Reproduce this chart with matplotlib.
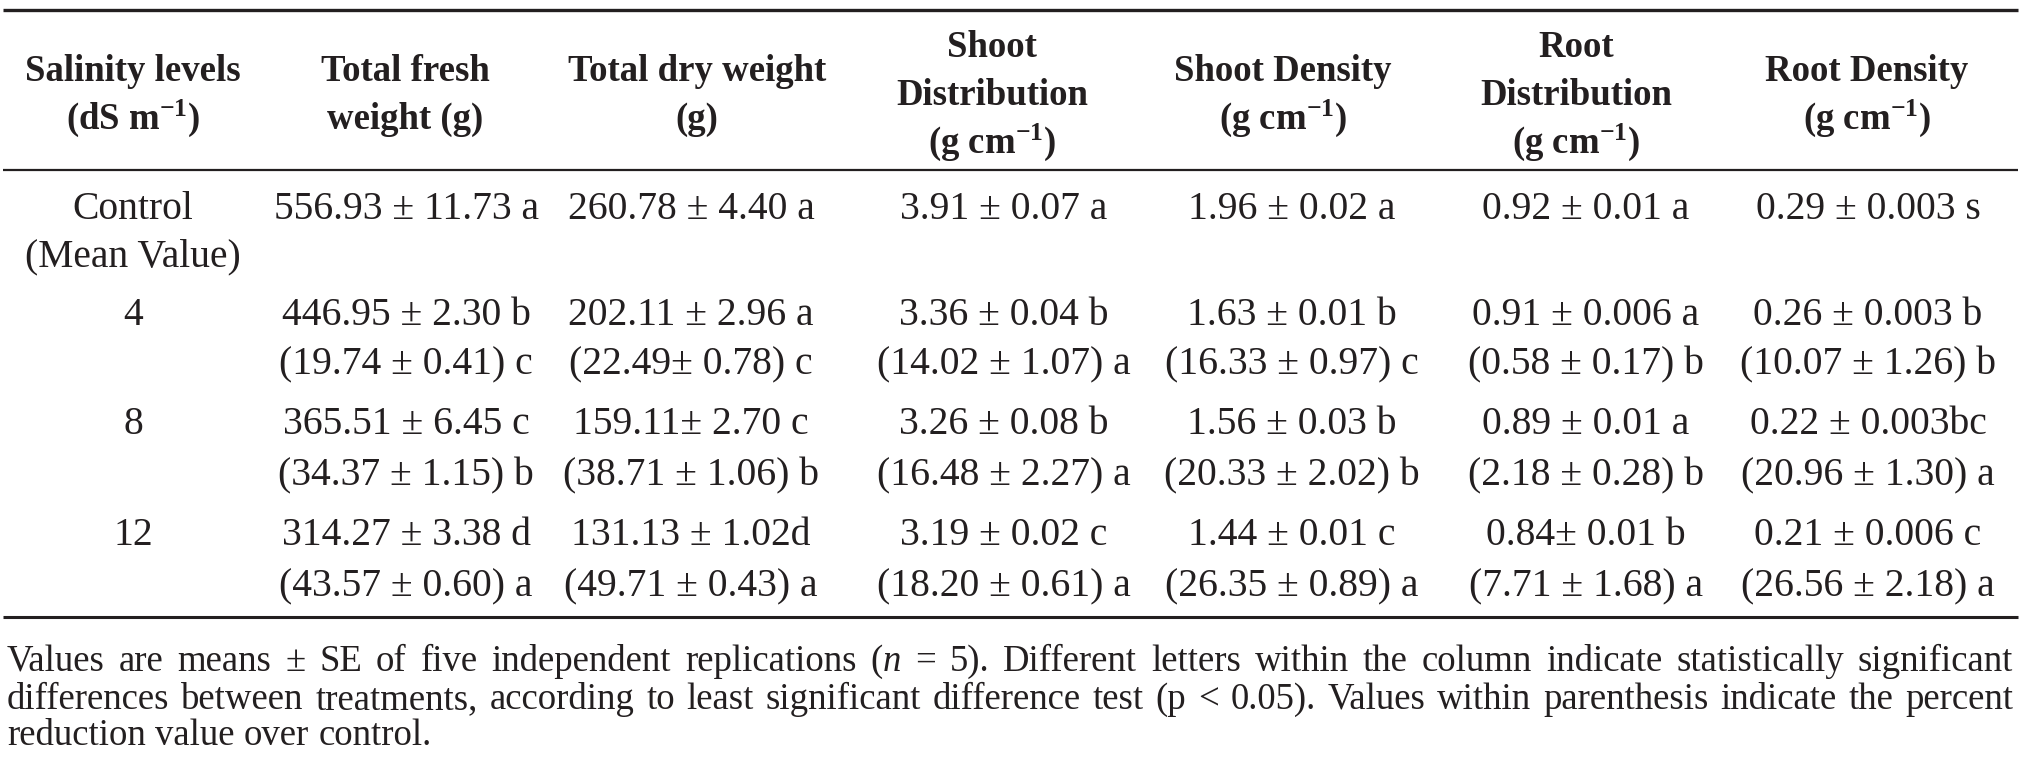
import matplotlib
matplotlib.use("Agg")
import matplotlib.pyplot as plt

plt.rcParams['font.family'] = ['Liberation Serif', 'DejaVu Serif']
plt.rcParams['mathtext.fontset'] = 'custom'
plt.rcParams['mathtext.rm'] = 'Liberation Serif'
plt.rcParams['mathtext.bf'] = 'Liberation Serif:bold'
plt.rcParams['mathtext.it'] = 'Liberation Serif:italic'

INK = '#231f20'

# table content
headers = [
    ["Salinity levels", r"(dS m$^{\mathbf{-1}}$)"],
    ["Total fresh", "weight (g)"],
    ["Total dry weight", "(g)"],
    ["Shoot", "Distribution", r"(g cm$^{\mathbf{-1}}$)"],
    ["Shoot Density", r"(g cm$^{\mathbf{-1}}$)"],
    ["Root", "Distribution", r"(g cm$^{\mathbf{-1}}$)"],
    ["Root Density", r"(g cm$^{\mathbf{-1}}$)"],
]

salinity = ["Control", "4", "8", "12"]
salinity_sub = ["(Mean Value)", "", "", ""]

fresh = ["556.93 ± 11.73 a", "446.95 ± 2.30 b", "365.51 ± 6.45 c", "314.27 ± 3.38 d"]
fresh_red = ["", "(19.74 ± 0.41) c", "(34.37 ± 1.15) b", "(43.57 ± 0.60) a"]
dry = ["260.78 ± 4.40 a", "202.11 ± 2.96 a", "159.11± 2.70 c", "131.13 ± 1.02d"]
dry_red = ["", "(22.49± 0.78) c", "(38.71 ± 1.06) b", "(49.71 ± 0.43) a"]
shoot_dist = ["3.91 ± 0.07 a", "3.36 ± 0.04 b", "3.26 ± 0.08 b", "3.19 ± 0.02 c"]
shoot_dist_red = ["", "(14.02 ± 1.07) a", "(16.48 ± 2.27) a", "(18.20 ± 0.61) a"]
shoot_dens = ["1.96 ± 0.02 a", "1.63 ± 0.01 b", "1.56 ± 0.03 b", "1.44 ± 0.01 c"]
shoot_dens_red = ["", "(16.33 ± 0.97) c", "(20.33 ± 2.02) b", "(26.35 ± 0.89) a"]
root_dist = ["0.92 ± 0.01 a", "0.91 ± 0.006 a", "0.89 ± 0.01 a", "0.84± 0.01 b"]
root_dist_red = ["", "(0.58 ± 0.17) b", "(2.18 ± 0.28) b", "(7.71 ± 1.68) a"]
root_dens = ["0.29 ± 0.003 s", "0.26 ± 0.003 b", "0.22 ± 0.003bc", "0.21 ± 0.006 c"]
root_dens_red = ["", "(10.07 ± 1.26) b", "(20.96 ± 1.30) a", "(26.56 ± 2.18) a"]

columns = [
    (salinity, salinity_sub),
    (fresh, fresh_red),
    (dry, dry_red),
    (shoot_dist, shoot_dist_red),
    (shoot_dens, shoot_dens_red),
    (root_dist, root_dist_red),
    (root_dens, root_dens_red),
]

# footnote, already broken as in the source; *x* = italic
footnote_lines = [
    "Values are means ± SE of five independent replications (*n* = 5). "
    "Different letters within the column indicate statistically significant",
    "differences between treatments, according to least significant difference "
    "test (p < 0.05). Values within parenthesis indicate the percent",
    "reduction value over control.",
]

# layout (pixel coordinates, y downwards)
W, H = 2019, 771
head_x = [133, 405, 697, 992, 1283, 1576, 1867]
cell_x = [133, 406, 691, 1004, 1292, 1586, 1868]
head_mid, head_step = 93, 48
row_y = [206, 312, 421, 532]
sub_y = [253, 361, 472, 583]
foot_y = [659, 697, 733]
left, right = 7, 2013
fs_head, fs_cell, fs_foot = 26.5, 28.5, 26.5

fig = plt.figure(figsize=(W / 100, H / 100), dpi=100)
ax = fig.add_axes([0, 0, 1, 1])
ax.set_xlim(0, W)
ax.set_ylim(H, 0)
ax.axis('off')

ax.hlines(10, 3, 2018, color=INK, lw=2.4)
ax.hlines(170, 3, 2018, color=INK, lw=1.6)
ax.hlines(617, 3, 2018, color=INK, lw=2.2)


def cap_off(fs):
    # shift from visual centre to baseline, in pixels
    return 0.33 * fs * 100 / 72


for x, lines in zip(head_x, headers):
    n = len(lines)
    for i, s in enumerate(lines):
        y = head_mid + (i - (n - 1) / 2) * head_step
        ax.text(x, y + cap_off(fs_head), s, ha='center', va='baseline',
                fontsize=fs_head, fontweight='bold', color=INK)

for ci, (main, sub) in enumerate(columns):
    for ri in range(len(row_y)):
        ax.text(cell_x[ci], row_y[ri] + cap_off(fs_cell), main[ri],
                ha='center', va='baseline', fontsize=fs_cell, color=INK)
        if sub[ri]:
            ax.text(cell_x[ci], sub_y[ri] + cap_off(fs_cell), sub[ri],
                    ha='center', va='baseline', fontsize=fs_cell, color=INK)

# justified footnote
fig.canvas.draw()
renderer = fig.canvas.get_renderer()


def word_parts(word):
    parts = []
    for k, b in enumerate(word.split('*')):
        if b:
            parts.append((b, 'italic' if k % 2 else 'normal'))
    return parts


def width_px(s, style):
    t = ax.text(0, 0, s, fontsize=fs_foot, fontstyle=style)
    bb = t.get_window_extent(renderer)
    t.remove()
    return bb.width


space_w = width_px('a a', 'normal') - 2 * width_px('a', 'normal')
avail = right - left

for li, text in enumerate(footnote_lines):
    y = foot_y[li] + cap_off(fs_foot)
    items = []
    for w in text.split(' '):
        parts = word_parts(w)
        ws = [width_px(p, st) for p, st in parts]
        items.append((parts, ws, sum(ws)))
    total = sum(it[2] for it in items)
    if li < len(footnote_lines) - 1:
        gap = (avail - total) / (len(items) - 1)
    else:
        gap = space_w
    x = left
    for parts, ws, tw in items:
        xx = x
        for (p, st), pw in zip(parts, ws):
            ax.text(xx, y, p, ha='left', va='baseline', fontsize=fs_foot,
                    fontstyle=st, color=INK)
            xx += pw
        x += tw + gap

fig.savefig('out.png', dpi=100)
